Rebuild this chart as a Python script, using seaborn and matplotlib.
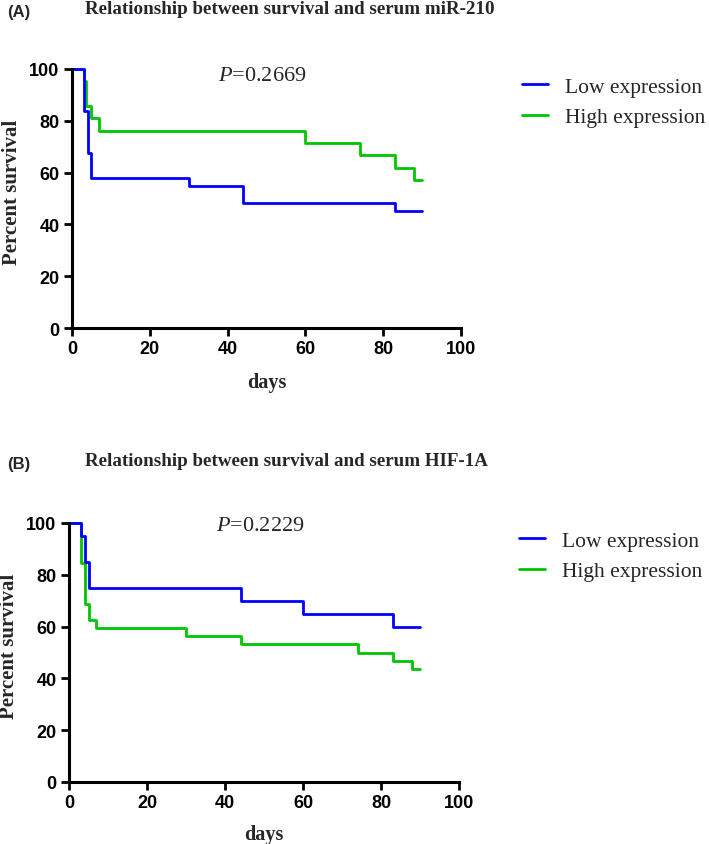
import matplotlib
matplotlib.use('Agg')
import matplotlib.pyplot as plt
import seaborn as sns
import pandas as pd

# (A) serum miR-210 - Kaplan-Meier steps
a_low_days = [0, 3, 4, 5, 30, 44, 83, 90]
a_low_surv = [100, 83.9, 67.7, 58.1, 54.8, 48.4, 45.2, 45.2]
a_high_days = [0, 3, 3.5, 5, 7, 60, 74, 83, 88, 90]
a_high_surv = [100, 95.2, 85.7, 81.0, 76.2, 71.4, 66.7, 61.9, 57.1, 57.1]

# (B) serum HIF-1A
b_low_days = [0, 3, 4, 5, 44, 60, 83, 90]
b_low_surv = [100, 95, 85, 75, 70, 65, 60, 60]
b_high_days = [0, 3, 4, 5, 7, 30, 44, 74, 83, 88, 90]
b_high_surv = [100, 84.4, 68.8, 62.5, 59.4, 56.3, 53.1, 50, 46.9, 43.8, 43.8]

groups = ['Low expression', 'High expression']
panel_tags = ['(A)', '(B)']
titles = ['Relationship between survival and serum miR-210',
          'Relationship between survival and serum HIF-1A']
p_values = ['0.2669', '0.2229']
ticks = [0, 20, 40, 60, 80, 100]


def make_df(low_d, low_s, high_d, high_s):
    low = pd.DataFrame({'day': low_d, 'surv': low_s, 'group': groups[0]})
    high = pd.DataFrame({'day': high_d, 'surv': high_s, 'group': groups[1]})
    return pd.concat([low, high], ignore_index=True)


dfs = [make_df(a_low_days, a_low_surv, a_high_days, a_high_surv),
       make_df(b_low_days, b_low_surv, b_high_days, b_high_surv)]

sns.set_style('ticks')
plt.rcParams['font.family'] = ['Liberation Sans', 'DejaVu Sans']
plt.rcParams['mathtext.fontset'] = 'custom'
plt.rcParams['mathtext.it'] = 'Liberation Serif:italic'
plt.rcParams['mathtext.rm'] = 'Liberation Serif'

W, H = 709, 845
fig = plt.figure(figsize=(W / 100, H / 100), dpi=100)

# axes boxes in pixels: left, right, top(y=100), bottom(y=0)
boxes = [(72, 461, 70, 329), (69, 459, 524, 783)]
title_y = [10, 462]
tag_y = [12, 465]
legend_mid = [103, 557]
legend_x = [522, 519]
xlabel_y = [-0.207, -0.199]
p_y = [97.5, 99.2]
palette = {groups[0]: '#0000FF', groups[1]: '#00C400'}

for i, df in enumerate(dfs):
    l, r, t, b = boxes[i]
    ax = fig.add_axes([l / W, 1 - b / H, (r - l) / W, (b - t) / H])
    # draw high first so the blue line sits on top
    sns.lineplot(data=df, x='day', y='surv', hue='group',
                 hue_order=[groups[1], groups[0]], palette=palette,
                 drawstyle='steps-post', estimator=None, linewidth=2,
                 legend=False, ax=ax)
    for ln in ax.lines:
        ln.set_clip_on(False)

    ax.set_xlim(0, 100)
    ax.set_ylim(0, 100)
    ax.set_xticks(ticks)
    ax.set_yticks(ticks)
    sns.despine(ax=ax)
    for s in ['left', 'bottom']:
        ax.spines[s].set_linewidth(2.2)
        ax.spines[s].set_color('black')
    ax.tick_params(direction='out', length=6, width=2, labelsize=13,
                   colors='black', pad=3)
    for lab in ax.get_xticklabels() + ax.get_yticklabels():
        lab.set_fontweight('bold')

    ax.set_xlabel('days', fontfamily='Liberation Serif', fontweight='bold',
                  fontsize=14.5, va='center')
    ax.xaxis.set_label_coords(0.5, xlabel_y[i])
    ax.set_ylabel('Percent survival', fontfamily='Liberation Serif',
                  fontweight='bold', fontsize=15)
    ax.yaxis.set_label_coords(-0.1285, 0.527)

    ax.text(49, p_y[i], r'$\mathit{P}$=' + p_values[i],
            ha='center', va='center', fontfamily='Liberation Serif',
            fontsize=16)

    hs = [ax.lines[1], ax.lines[0]]
    ax.legend(hs, groups, loc='center left',
              bbox_to_anchor=(legend_x[i] / W, 1 - legend_mid[i] / H),
              bbox_transform=fig.transFigure, frameon=False,
              borderpad=0, borderaxespad=0, handlelength=1.2,
              handletextpad=0.8, labelspacing=0.48,
              prop={'family': 'Liberation Serif', 'size': 15.5})

    fig.text(7 / W, 1 - tag_y[i] / H, panel_tags[i], ha='left', va='center',
             fontweight='bold', fontsize=12)
    fig.text(85 / W, 1 - title_y[i] / H, titles[i], ha='left', va='center',
             fontfamily='Liberation Serif', fontweight='bold', fontsize=13.7)

fig.savefig('out.png', dpi=100)
